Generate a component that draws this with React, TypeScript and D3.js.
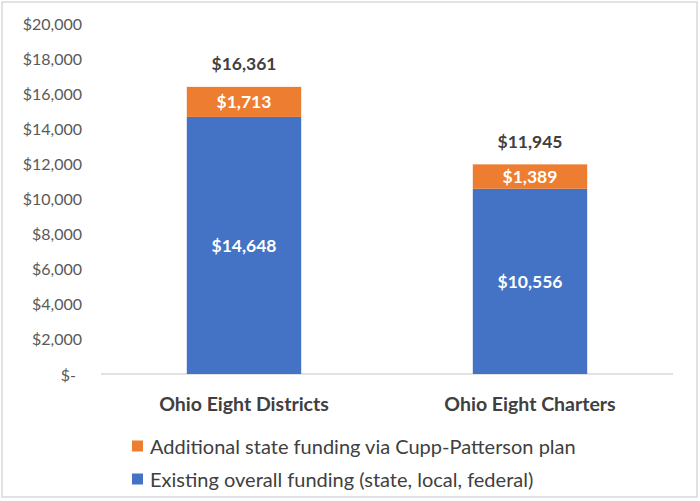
import * as d3 from "d3";

const categories = ["Ohio Eight Districts", "Ohio Eight Charters"];
const existing = [14648, 10556];
const additional = [1713, 1389];
const yTicks = [0, 2000, 4000, 6000, 8000, 10000, 12000, 14000, 16000, 18000, 20000];
const legendLabels = [
  "Additional state funding via Cupp-Patterson plan",
  "Existing overall funding (state, local, federal)",
];

const width = 700;
const height = 501;
const font = "Lato, 'Open Sans', sans-serif";
const blue = "#4472C4";
const orange = "#ED7D31";
const textDark = "#404040";
const textGray = "#595959";

const fmt = (v: number) => (v === 0 ? "$-" : "$" + d3.format(",")(v));

const App = () => {
  const x = d3
    .scaleBand<string>()
    .domain(categories)
    .range([101, 673])
    .paddingInner(0.6)
    .paddingOuter(0.3);
  const y = d3.scaleLinear().domain([0, 20000]).range([374, 23]);

  const legendColors = [orange, blue];

  return (
    <svg
      width={width}
      height={height}
      style={{ position: "absolute", left: 0, top: 0, background: "#fff" }}
      fontFamily={font}
    >
      {/* chart border */}
      <rect x={2} y={2} width={695} height={495} fill="#fff" stroke="#D9D9D9" strokeWidth={1.5} />

      {/* y axis labels */}
      {yTicks.map((t) => (
        <text
          key={t}
          x={t === 0 ? 76 : 82}
          y={y(t)}
          textAnchor="end"
          dominantBaseline="central"
          fontSize={16}
          fill={textGray}
        >
          {fmt(t)}
        </text>
      ))}

      {/* baseline */}
      <line x1={101} x2={673} y1={y(0)} y2={y(0)} stroke="#D9D9D9" strokeWidth={1.5} />

      {/* bars */}
      {categories.map((c, i) => {
        const bx = x(c) ?? 0;
        const bw = x.bandwidth();
        const total = existing[i] + additional[i];
        const cx = bx + bw / 2;
        return (
          <g key={c}>
            <rect x={bx} y={y(existing[i])} width={bw} height={y(0) - y(existing[i])} fill={blue} />
            <rect x={bx} y={y(total)} width={bw} height={y(existing[i]) - y(total)} fill={orange} />
            <text
              x={cx}
              y={(y(0) + y(existing[i])) / 2}
              textAnchor="middle"
              dominantBaseline="central"
              fontSize={17.5}
              fontWeight="bold"
              fill="#fff"
            >
              {fmt(existing[i])}
            </text>
            <text
              x={cx}
              y={(y(existing[i]) + y(total)) / 2}
              textAnchor="middle"
              dominantBaseline="central"
              fontSize={17.5}
              fontWeight="bold"
              fill="#fff"
            >
              {fmt(additional[i])}
            </text>
            <text
              x={cx}
              y={y(total) - 23}
              textAnchor="middle"
              dominantBaseline="central"
              fontSize={17.5}
              fontWeight="bold"
              fill={textDark}
            >
              {fmt(total)}
            </text>
            <text
              x={cx}
              y={403}
              textAnchor="middle"
              dominantBaseline="central"
              fontSize={19.5}
              fontWeight="bold"
              fill={textDark}
            >
              {c}
            </text>
          </g>
        );
      })}

      {/* legend */}
      {legendLabels.map((l, i) => (
        <g key={l} transform={`translate(132, ${446 + i * 33})`}>
          <rect x={0} y={-5.5} width={11} height={11} fill={legendColors[i]} />
          <text x={18} y={0} dominantBaseline="central" fontSize={20} fill={textDark}>
            {l}
          </text>
        </g>
      ))}
    </svg>
  );
};

export default App;
